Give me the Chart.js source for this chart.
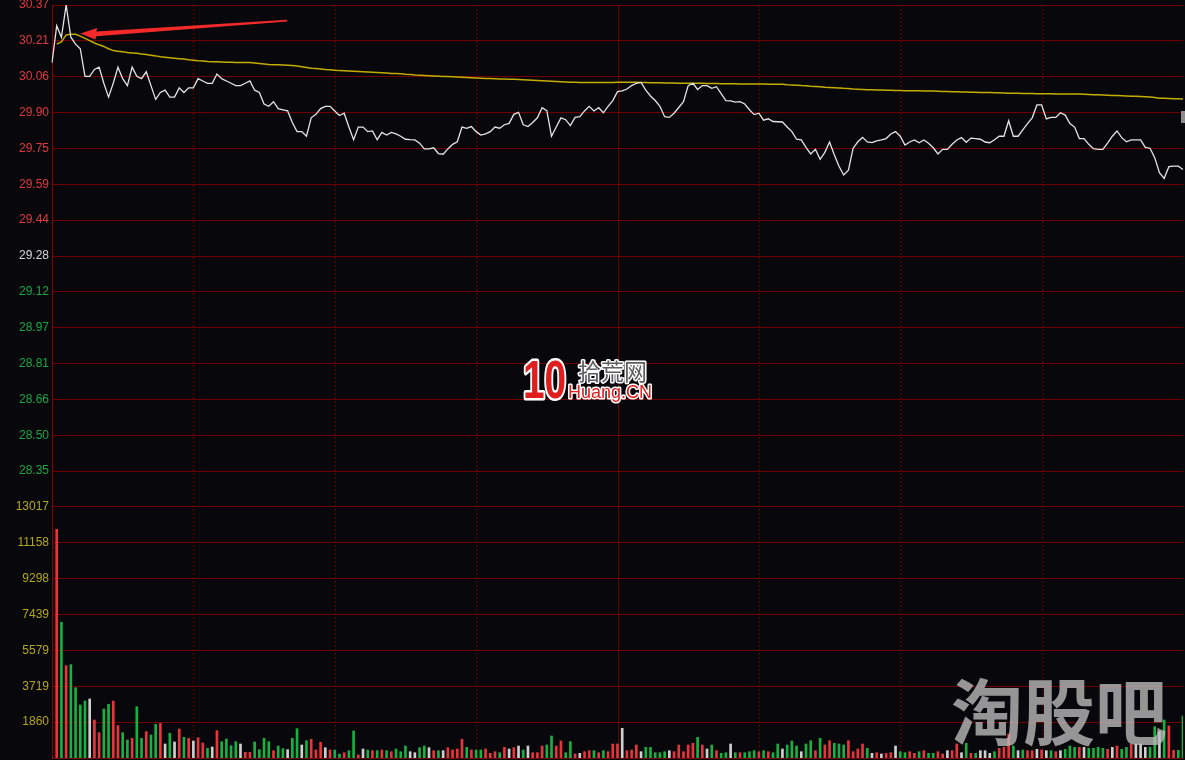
<!DOCTYPE html>
<html>
<head>
<meta charset="utf-8">
<script src="https://cdn.jsdelivr.net/npm/chart.js@4.4.1/dist/chart.umd.min.js"></script>
<style>
  html, body { margin: 0; padding: 0; background: #08080c; }
  #wrap { width: 1185px; height: 760px; }
</style>
</head>
<body>
<div id="wrap"><canvas id="chart" width="1185" height="760"></canvas></div>
<script>
// intraday minute data
const preClose = 29.28;
const priceStep = 0.15571;

const priceTicks = ['30.37', '30.21', '30.06', '29.90', '29.75', '29.59', '29.44', '29.28',
  '29.12', '28.97', '28.81', '28.66', '28.50', '28.35'];
const volTicks = ['13017', '11158', '9298', '7439', '5579', '3719', '1860'];

const price = [
  30.12, 30.28, 30.23, 30.37, 30.23, 30.20, 30.18, 30.06, 30.06, 30.09,
  30.10, 30.03, 29.97, 30.03, 30.10, 30.05, 30.02, 30.10, 30.06, 30.05,
  30.08, 30.02, 29.96, 29.99, 30.00, 29.97, 29.97, 30.01, 29.99, 30.01,
  30.01, 30.05, 30.04, 30.03, 30.03, 30.07, 30.05, 30.04, 30.03, 30.02,
  30.02, 30.03, 30.04, 30.00, 29.99, 29.94, 29.93, 29.95, 29.92, 29.915,
  29.91, 29.86, 29.82, 29.82, 29.80, 29.88, 29.895, 29.92, 29.93, 29.93,
  29.91, 29.89, 29.90, 29.84, 29.785, 29.84, 29.84, 29.82, 29.823, 29.785,
  29.817, 29.805, 29.817, 29.81, 29.80, 29.787, 29.785, 29.784, 29.77, 29.745,
  29.745, 29.75, 29.725, 29.722, 29.745, 29.765, 29.776, 29.84, 29.834, 29.842,
  29.82, 29.805, 29.81, 29.82, 29.84, 29.835, 29.85, 29.856, 29.895, 29.904,
  29.85, 29.842, 29.86, 29.88, 29.924, 29.911, 29.80, 29.84, 29.88, 29.872,
  29.846, 29.882, 29.885, 29.91, 29.93, 29.91, 29.924, 29.902, 29.93, 29.955,
  29.994, 29.997, 30.005, 30.02, 30.03, 30.034, 30.00, 29.975, 29.955, 29.93,
  29.885, 29.882, 29.90, 29.925, 29.95, 30.02, 30.03, 30.003, 30.02, 30.02,
  30.008, 30.015, 29.985, 29.955, 29.954, 29.948, 29.95, 29.94, 29.915, 29.894,
  29.90, 29.87, 29.876, 29.864, 29.863, 29.862, 29.84, 29.82, 29.787, 29.784,
  29.752, 29.723, 29.743, 29.70, 29.73, 29.775, 29.72, 29.67, 29.632, 29.653,
  29.748, 29.776, 29.795, 29.775, 29.772, 29.78, 29.784, 29.79, 29.81, 29.82,
  29.80, 29.762, 29.775, 29.784, 29.772, 29.784, 29.77, 29.75, 29.723, 29.743,
  29.743, 29.765, 29.784, 29.794, 29.774, 29.792, 29.79, 29.787, 29.775, 29.772,
  29.785, 29.80, 29.80, 29.867, 29.80, 29.80, 29.828, 29.855, 29.88, 29.936,
  29.936, 29.875, 29.882, 29.882, 29.902, 29.892, 29.855, 29.84, 29.79, 29.79,
  29.765, 29.746, 29.743, 29.743, 29.77, 29.80, 29.823, 29.794, 29.776, 29.784,
  29.784, 29.784, 29.752, 29.748, 29.707, 29.642, 29.617, 29.668, 29.67, 29.67,
  29.656
];

const avgPrice = [
  null, 30.20, 30.21, 30.24, 30.243, 30.243, 30.235, 30.225, 30.215, 30.205,
  30.197, 30.19, 30.18, 30.172, 30.169, 30.167, 30.164, 30.162, 30.16, 30.157,
  30.155, 30.152, 30.149, 30.145, 30.143, 30.141, 30.139, 30.137, 30.135, 30.132,
  30.13, 30.128, 30.127, 30.125, 30.124, 30.123, 30.122, 30.121, 30.121, 30.12,
  30.12, 30.12, 30.12, 30.118, 30.116, 30.114, 30.112, 30.111, 30.11, 30.109,
  30.108, 30.107, 30.105, 30.102, 30.099, 30.095, 30.094, 30.092, 30.09, 30.089,
  30.087, 30.085, 30.084, 30.083, 30.082, 30.081, 30.08, 30.079, 30.078, 30.077,
  30.076, 30.075, 30.073, 30.072, 30.071, 30.069, 30.068, 30.066, 30.065, 30.064,
  30.063, 30.062, 30.061, 30.06, 30.059, 30.058, 30.057, 30.056, 30.055, 30.054,
  30.053, 30.052, 30.051, 30.051, 30.05, 30.049, 30.049, 30.048, 30.047, 30.046,
  30.045, 30.044, 30.043, 30.042, 30.041, 30.04, 30.039, 30.038, 30.037, 30.036,
  30.035, 30.034, 30.033, 30.033, 30.033, 30.033, 30.033, 30.033, 30.033, 30.033,
  30.034, 30.034, 30.034, 30.034, 30.034, 30.033, 30.033, 30.032, 30.032, 30.032,
  30.031, 30.031, 30.031, 30.03, 30.03, 30.03, 30.03, 30.03, 30.03, 30.029,
  30.029, 30.029, 30.028, 30.028, 30.028, 30.028, 30.027, 30.027, 30.027, 30.027,
  30.027, 30.027, 30.026, 30.026, 30.026, 30.026, 30.024, 30.023, 30.022, 30.02,
  30.019, 30.017, 30.016, 30.015, 30.013, 30.012, 30.011, 30.01, 30.008, 30.007,
  30.005, 30.004, 30.003, 30.002, 30.002, 30.001, 30.001, 30.0, 30.0, 29.999,
  29.999, 29.998, 29.998, 29.998, 29.998, 29.997, 29.997, 29.996, 29.995, 29.994,
  29.994, 29.993, 29.993, 29.992, 29.992, 29.991, 29.991, 29.99, 29.99, 29.99,
  29.989, 29.989, 29.988, 29.987, 29.987, 29.987, 29.986, 29.986, 29.986, 29.985,
  29.985, 29.985, 29.985, 29.984, 29.984, 29.984, 29.984, 29.983, 29.983, 29.982,
  29.981, 29.98, 29.98, 29.979, 29.978, 29.977, 29.977, 29.976, 29.975, 29.974,
  29.974, 29.973, 29.972, 29.97, 29.968, 29.965, 29.965, 29.964, 29.963, 29.963,
  29.962
];

const volume = [0,
  11860, 7037, 4787, 4840, 3646, 2749, 2956, 3060, 1970, 1313,
  2541, 2784, 2956, 1676, 1313, 933, 1020, 2662, 1020, 1365,
  1193, 1746, 1798, 726, 1279, 830, 1504, 1071, 1020, 882,
  1054, 778, 501, 570, 1418, 847, 985, 639, 847, 726,
  294, 294, 830, 432, 1020, 847, 380, 622, 484, 432,
  1020, 1521, 674, 897, 970, 415, 814, 534, 415, 415,
  207, 275, 380, 1400, 156, 467, 415, 380, 380, 415,
  380, 327, 467, 327, 622, 327, 275, 534, 622, 534,
  380, 380, 380, 534, 415, 467, 970, 552, 415, 415,
  415, 467, 242, 327, 275, 552, 467, 534, 622, 415,
  622, 275, 275, 622, 674, 1141, 622, 882, 275, 847,
  207, 242, 327, 380, 380, 275, 380, 327, 726, 726,
  1540, 380, 415, 674, 327, 552, 553, 275, 275, 327,
  380, 327, 674, 327, 674, 760, 1071, 674, 467, 674,
  380, 242, 275, 726, 275, 275, 275, 327, 380, 327,
  380, 327, 275, 726, 467, 674, 882, 622, 327, 726,
  897, 380, 1020, 674, 897, 760, 726, 674, 897, 327,
  467, 726, 500, 242, 275, 207, 242, 275, 622, 327,
  275, 327, 242, 327, 380, 242, 242, 327, 207, 380,
  380, 726, 275, 760, 242, 242, 380, 380, 242, 327,
  501, 553, 1245, 622, 380, 415, 380, 380, 449, 415,
  380, 380, 327, 380, 449, 622, 553, 553, 553, 501,
  501, 553, 501, 449, 553, 622, 449, 553, 726, 726,
  726, 553, 553, 1623, 1365, 1970, 1660, 400, 400, 2178
];

// r = up, g = down, w = flat, one letter per minute
const volDir = ('w' +
  'rgrggggwrr' + 'ggrrggrggr' + 'ggrwgwrgrw' + 'rrgwrggggw' + 'rrggggrggw' +
  'ggwgrrrwrg' + 'grggrwgrgr' + 'grgggwwggw' + 'rgwrrrrgrg' + 'grrrgrwrwg' +
  'wrrrggrrgg' + 'rwrrgrgrrr' + 'wrrrwggggg' + 'wrrrrrgrwg' + 'rggwgrgggr' +
  'grggwgggwg' + 'grgrrgggrr' + 'rrgwrwrrwg' + 'grrgrggrrw' + 'rrwgrgwwwg' +
  'rrrgwgrrwr' + 'wgrwgggrwg' + 'gggrwrggrw' + 'wwggwgrrgg').split('');

// 09:30 .. 11:30, 13:01 .. 15:00
const times = [];
for (let m = 0; m <= 240; m++) {
  const t = m <= 120 ? 9 * 60 + 30 + m : 13 * 60 + (m - 120);
  times.push(String(Math.floor(t / 60)).padStart(2, '0') + ':' + String(t % 60).padStart(2, '0'));
}

const dirColors = { r: '#e6363b', g: '#18b040', w: '#cfcfcf' };
const axisLabels = priceTicks.concat(volTicks, ['']);
const priceTop = preClose + 7 * priceStep;
const priceBottom = priceTop - 21 * priceStep;

// background + half hour separators
const backdrop = {
  id: 'backdrop',
  beforeDraw(chart) {
    const ctx = chart.ctx;
    ctx.save();
    ctx.fillStyle = '#08080c';
    ctx.fillRect(0, 0, chart.width, chart.height);
    ctx.restore();
  },
  beforeDatasetsDraw(chart) {
    const { ctx, chartArea, scales } = chart;
    ctx.save();
    ctx.lineWidth = 1;
    [30, 60, 90, 120, 150, 180, 210].forEach(m => {
      const x = Math.round(scales.x.getPixelForValue(m)) + 0.5;
      ctx.strokeStyle = m === 120 ? '#6a0000' : '#680000';
      ctx.setLineDash(m === 120 ? [] : [2, 2]);
      ctx.beginPath();
      ctx.moveTo(x, chartArea.top);
      ctx.lineTo(x, chartArea.bottom);
      ctx.stroke();
    });
    ctx.restore();
  }
};

// watermark over the volume bars
const watermark = {
  id: 'watermark',
  afterDatasetsDraw(chart) {
    const ctx = chart.ctx;
    ctx.save();
    ctx.font = 'bold 72px "Noto Sans CJK SC"';
    ctx.fillStyle = 'rgba(190,190,190,0.78)';
    ctx.textBaseline = 'middle';
    ctx.fillText('淘股吧', 951, 712);
    ctx.restore();
  }
};

// red arrow, site logo, small edge marker
const overlay = {
  id: 'overlay',
  afterDraw(chart) {
    const { ctx, scales } = chart;
    ctx.save();

    const tx = scales.x.getPixelForValue(6);
    const ty = scales.y.getPixelForValue(avgPrice[6]) - 2.5;
    ctx.fillStyle = '#f42a2a';
    ctx.beginPath();
    ctx.moveTo(tx, ty);
    ctx.lineTo(tx + 17, ty - 5.5);
    ctx.lineTo(tx + 16, ty - 2.2);
    ctx.lineTo(tx + 207, ty - 13.8);
    ctx.lineTo(tx + 207, ty - 12);
    ctx.lineTo(tx + 16, ty + 2.6);
    ctx.lineTo(tx + 15, ty + 6);
    ctx.closePath();
    ctx.fill();

    // 10 拾荒网 Huang.CN
    ctx.lineJoin = 'round';
    ctx.save();
    ctx.translate(523, 398);
    ctx.scale(0.72, 1);
    ctx.font = 'bold 54px "Liberation Sans"';
    ctx.strokeStyle = '#ffffff';
    ctx.lineWidth = 5;
    ctx.strokeText('10', 0, 0);
    ctx.fillStyle = '#e01e1e';
    ctx.fillText('10', 0, 0);
    ctx.restore();

    ctx.font = '23px "Noto Sans CJK SC"';
    ctx.strokeStyle = '#ffffff';
    ctx.lineWidth = 3;
    ctx.strokeText('拾荒网', 578, 380);
    ctx.fillStyle = '#5e5e5e';
    ctx.fillText('拾荒网', 578, 380);

    ctx.font = '18px "Liberation Sans"';
    ctx.lineWidth = 3;
    ctx.strokeText('Huang.CN', 568, 398);
    ctx.fillStyle = '#e01e1e';
    ctx.fillText('Huang.CN', 568, 398);

    ctx.fillStyle = '#8c8c8c';
    ctx.fillRect(1181, 111, 4, 12);
    ctx.restore();
  }
};

const chart = new Chart(document.getElementById('chart'), {
  data: {
    labels: times,
    datasets: [
      {
        type: 'line',
        data: price,
        yAxisID: 'y',
        borderColor: '#e4e4e4',
        borderWidth: 1.3,
        pointRadius: 0,
        tension: 0,
        order: 1
      },
      {
        type: 'line',
        data: avgPrice,
        yAxisID: 'y',
        borderColor: '#c4ac00',
        borderWidth: 1.5,
        pointRadius: 0,
        tension: 0,
        order: 2
      },
      {
        type: 'bar',
        data: volume,
        yAxisID: 'v',
        backgroundColor: volDir.map(d => dirColors[d]),
        barThickness: 2,
        order: 3
      }
    ]
  },
  options: {
    responsive: false,
    animation: false,
    events: [],
    layout: { padding: { top: 5, bottom: 2, right: 2, left: 0 } },
    plugins: { legend: { display: false }, tooltip: { enabled: false } },
    scales: {
      x: { type: 'category', display: false, offset: false },
      y: {
        position: 'left',
        min: priceBottom,
        max: priceTop,
        afterBuildTicks(scale) {
          scale.ticks = axisLabels.map((_, i) => ({ value: priceTop - i * priceStep }));
        },
        afterFit(scale) {
          scale.width = 52;
          scale.paddingTop = 0;
          scale.paddingBottom = 0;
        },
        grid: { color: '#700000', lineWidth: 1, drawTicks: false },
        border: { display: true, color: '#8a0000', width: 1 },
        ticks: {
          padding: 3,
          font: { family: 'Liberation Sans', size: 12 },
          color(ctx) {
            const i = ctx.index;
            if (i < 7) return '#e2393d';
            if (i === 7) return '#d6d6d6';
            if (i < 14) return '#17a841';
            return '#b4a71e';
          },
          callback(value, index) {
            return axisLabels[index];
          }
        }
      },
      v: {
        display: false,
        min: 0,
        max: Number(volTicks[0]) * 3
      }
    }
  },
  plugins: [backdrop, watermark, overlay]
});
</script>
</body>
</html>
